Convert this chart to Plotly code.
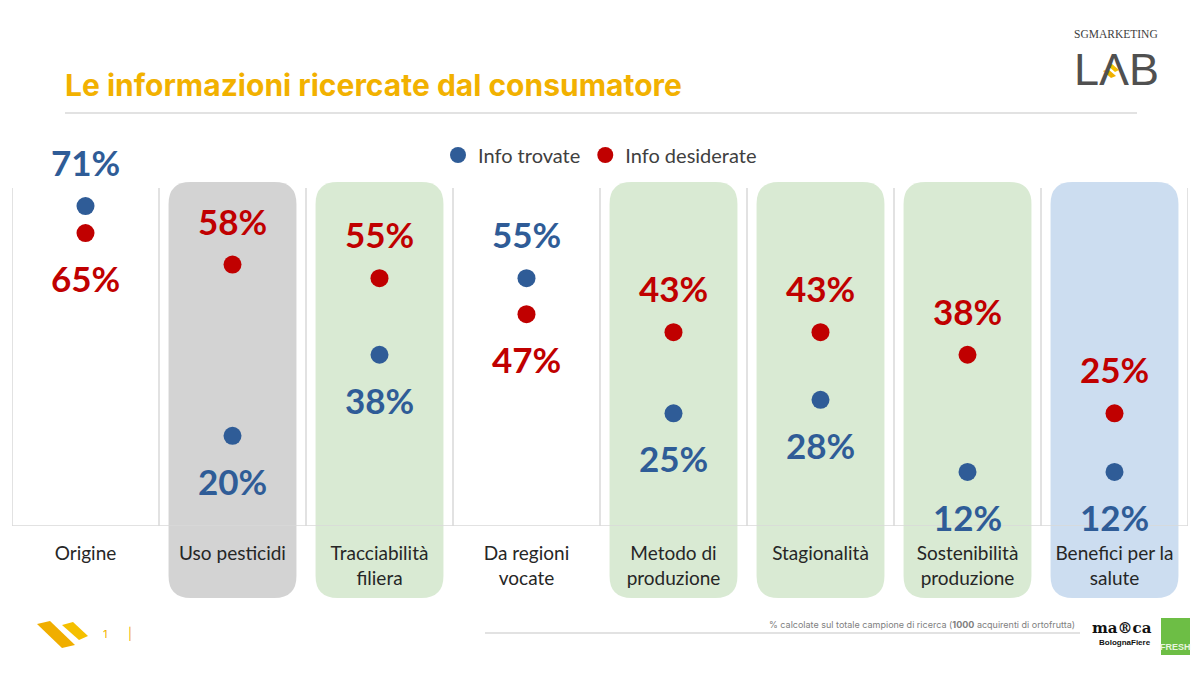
import plotly.graph_objects as go

categories = ["Origine", "Uso pesticidi", "Tracciabilità<br>filiera", "Da regioni<br>vocate",
              "Metodo di<br>produzione", "Stagionalità", "Sostenibilità<br>produzione",
              "Benefici per la<br>salute"]
info_trovate = [71, 20, 38, 55, 25, 28, 12, 12]
info_desiderate = [65, 58, 55, 47, 43, 43, 38, 25]
panel_fill = [None, "#D3D3D3", "#D9EAD3", None, "#D9EAD3", "#D9EAD3", "#D9EAD3", "#CCDDF0"]

BLUE = "#2F5C97"
RED = "#C00000"
TXT = "#262626"
GOLD = "#F2B100"
FONT = "Lato"

# plot box in pixels (for decoration placement)
L, R, T, B = 12, 1188, 188, 526
W, H = 1200, 675
def px(x):
    return (x - L) / (R - L)
def py(y):
    return (B - y) / (B - T)

xs = list(range(len(categories)))

fig = go.Figure()
fig.add_trace(go.Scatter(x=xs, y=info_trovate, mode="markers", name="Info trovate",
                         marker=dict(color=BLUE, size=18), cliponaxis=False))
fig.add_trace(go.Scatter(x=xs, y=info_desiderate, mode="markers", name="Info desiderate",
                         marker=dict(color=RED, size=18), cliponaxis=False))

shapes = []
# rounded background panels
half = 0.435
rx, ry = 0.15, 0.065
ytop, ybot = py(182), py(598)
for i, c in enumerate(panel_fill):
    if c is None:
        continue
    x0, x1 = i - half, i + half
    path = (f"M {x0+rx},{ytop} L {x1-rx},{ytop} Q {x1},{ytop} {x1},{ytop-ry} "
            f"L {x1},{ybot+ry} Q {x1},{ybot} {x1-rx},{ybot} L {x0+rx},{ybot} "
            f"Q {x0},{ybot} {x0},{ybot+ry} L {x0},{ytop-ry} Q {x0},{ytop} {x0+rx},{ytop} Z")
    shapes.append(dict(type="path", path=path, xref="x", yref="paper",
                       fillcolor=c, line=dict(width=0), layer="below"))
# dividers
for i in range(len(categories) + 1):
    shapes.append(dict(type="line", xref="x", yref="y", x0=i - 0.5, x1=i - 0.5, y0=0, y1=75,
                       line=dict(color="#D9D9D9", width=1.5), layer="below"))
shapes.append(dict(type="line", xref="x", yref="y", x0=-0.5, x1=len(categories) - 0.5, y0=0, y1=0,
                   line=dict(color="#D9D9D9", width=1.5), layer="below"))
# title rule and footer rule
shapes.append(dict(type="line", xref="paper", yref="paper", x0=px(65), x1=px(1137), y0=py(113), y1=py(113),
                   line=dict(color="#D9D9D9", width=1.5)))
shapes.append(dict(type="line", xref="paper", yref="paper", x0=px(485), x1=px(1080), y0=py(633), y1=py(633),
                   line=dict(color="#D9D9D9", width=1.5)))

def poly(pts):
    return "M " + " L ".join(f"{px(a)},{py(b)}" for a, b in pts) + " Z"
# bottom-left logo (two slanted blades)
shapes.append(dict(type="path", path=poly([(37, 624), (50, 621), (75, 645), (62, 648)]),
                   xref="paper", yref="paper", fillcolor="#F0AE00", line=dict(width=0)))
shapes.append(dict(type="path", path=poly([(62, 625), (73, 622), (88, 636), (79, 640)]),
                   xref="paper", yref="paper", fillcolor="#F5C000", line=dict(width=0)))
# yellow accents of the LAB logo
shapes.append(dict(type="path", path=poly([(1103, 71), (1108, 69), (1116, 76), (1111, 78)]),
                   xref="paper", yref="paper", fillcolor="#F0B000", line=dict(width=0)))
shapes.append(dict(type="path", path=poly([(1108, 66), (1112, 64), (1119, 70), (1115, 72)]),
                   xref="paper", yref="paper", fillcolor="#F5C000", line=dict(width=0)))
# FRESH green box
shapes.append(dict(type="rect", xref="paper", yref="paper", x0=px(1161), x1=px(1190), y0=py(618), y1=py(655),
                   fillcolor="#6DBE45", line=dict(width=0)))

annotations = []
for i in xs:
    t, d = info_trovate[i], info_desiderate[i]
    for v, col, hi in ((t, BLUE, t >= d), (d, RED, d > t)):
        annotations.append(dict(x=i, y=v, xref="x", yref="y", text=f"<b>{v}%</b>", showarrow=False,
                                yshift=44 if hi else -45, xanchor="center", yanchor="middle",
                                font=dict(family=FONT, size=35, color=col)))

def deco(x, y, text, font, xanchor="center", **kw):
    return dict(x=px(x), y=py(y), xref="paper", yref="paper", text=text, showarrow=False,
                xanchor=xanchor, yanchor="middle", font=font, **kw)

annotations += [
    deco(1077, 624, "% calcolate sul totale campione di ricerca (<b>1000</b> acquirenti di ortofrutta)",
         dict(family="Inter", size=9, color="#808080"), xanchor="right"),
    deco(105, 634, "1", dict(family="Inter", size=11, color=GOLD)),
    deco(130, 633, "|", dict(family="Inter", size=12, color=GOLD)),
    deco(1116, 34, "SGMARKETING", dict(family="Liberation Serif", size=11.5, color="#404040")),
    deco(1116, 69, "LΛB", dict(family="Liberation Sans", size=45, color="#505050")),
    deco(1122, 628, "<b>ma®ca</b>", dict(family="DejaVu Serif", size=15, color="#111111")),
    deco(1125, 642, "<b>BolognaFiere</b>", dict(family="Liberation Sans", size=8, color="#111111")),
    deco(1175.5, 647, "<b>FRESH</b>", dict(family="Liberation Sans Narrow, Liberation Sans", size=9,
                                          color="#E8F5DF")),
]

fig.update_layout(
    width=W, height=H,
    margin=dict(l=L, r=W - R, t=T, b=H - B),
    paper_bgcolor="white", plot_bgcolor="rgba(0,0,0,0)",
    title=dict(text="Le informazioni ricercate dal consumatore", x=65 / W, xref="container",
               xanchor="left", y=1 - 85 / H, yref="container", yanchor="middle",
               font=dict(family="Inter", size=30, color=GOLD, weight=700)),
    xaxis=dict(range=[-0.5, len(categories) - 0.5], tickmode="array", tickvals=xs, ticktext=categories,
               showgrid=False, zeroline=False, showline=False, ticks="",
               ticklabelstandoff=14,
               tickfont=dict(family=FONT, size=19, color=TXT)),
    yaxis=dict(range=[0, 75], visible=False, fixedrange=True),
    showlegend=True,
    legend=dict(orientation="h", x=0.5, xanchor="center", y=py(155), yanchor="middle",
                font=dict(family=FONT, size=20, color="#404040"), itemwidth=30,
                bgcolor="rgba(0,0,0,0)"),
    shapes=shapes, annotations=annotations,
)

fig.write_html("out.html")
